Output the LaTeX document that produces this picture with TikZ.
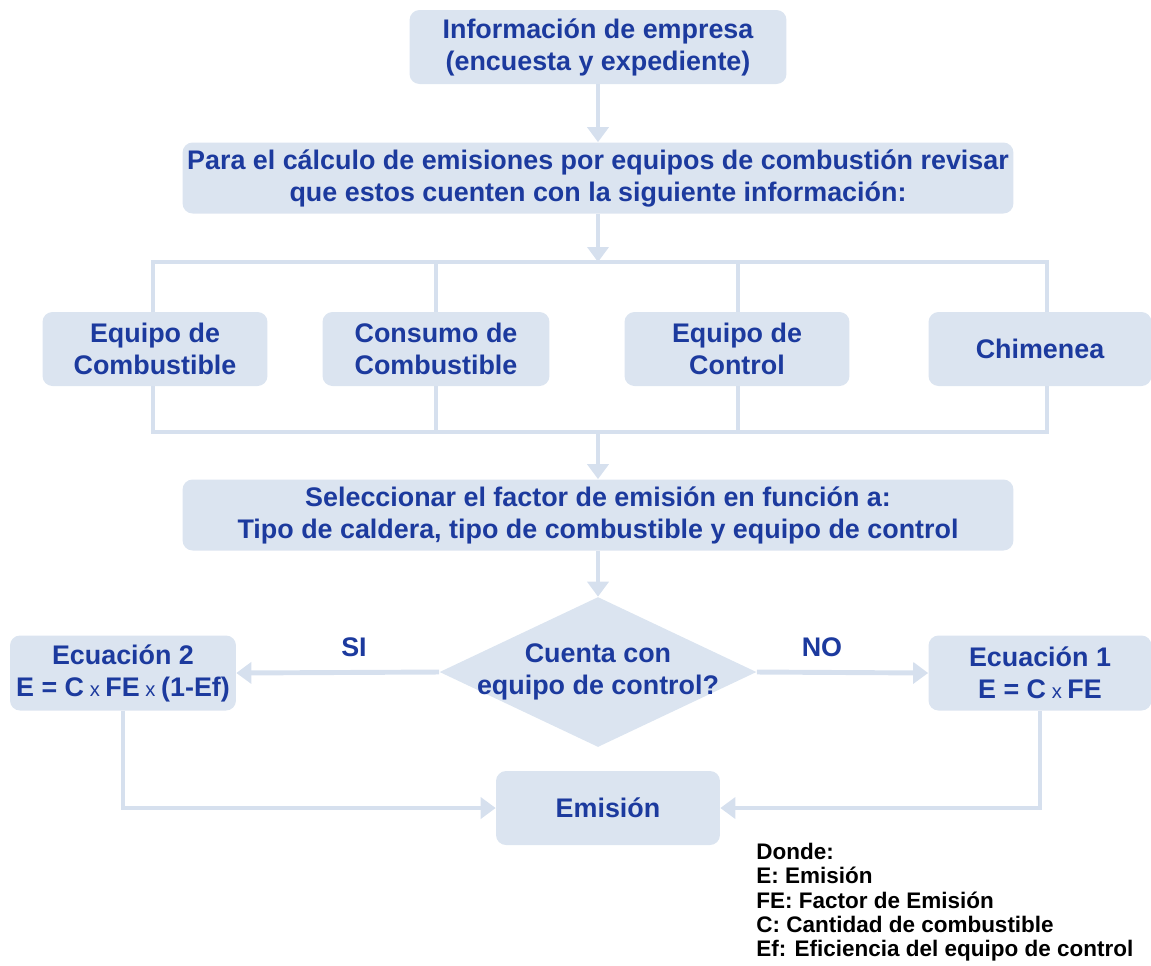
\documentclass[tikz,border=0pt]{standalone}
\usepackage{fontspec}
\setmainfont{Liberation Sans}
\usetikzlibrary{shapes.geometric,arrows.meta,backgrounds}
\definecolor{boxfill}{RGB}{219,228,240}
\definecolor{linecol}{RGB}{214,224,238}
\definecolor{textblue}{RGB}{28,58,158}
\newcommand{\por}{{\mdseries\fontsize{11.5}{12}\selectfont\ x\ }}

\begin{document}
\begin{tikzpicture}[x=0.02cm,y=-0.02cm,
    box/.style={fill=boxfill, rounded corners=0.2cm, text=textblue, align=center,
        font=\bfseries\fontsize{15.3}{18.2}\selectfont, inner sep=0pt},
    conn/.style={draw=linecol, line width=2.8pt},
    arr/.style={conn, -{Triangle[width=0.42cm,length=0.3cm]}},
    tag/.style={text=textblue, font=\bfseries\fontsize{15.3}{18}\selectfont}]
    \useasboundingbox (0,0) rectangle (1151,965);

    % Top boxes
    \node[box, minimum width=7.54cm, minimum height=1.48cm] (info) at (598,47)
        {Información de empresa\\(encuesta y expediente)};
    \node[box, minimum width=16.62cm, minimum height=1.42cm] (revisar) at (598,178)
        {Para el cálculo de emisiones por equipos de combustión revisar\\que estos cuenten con la siguiente información:};

    % Required information
    \node[box, minimum width=4.5cm, minimum height=1.48cm] (equipo) at (155,349) {Equipo de\\Combustible};
    \node[box, minimum width=4.54cm, minimum height=1.48cm] (consumo) at (436,349) {Consumo de\\Combustible};
    \node[box, minimum width=4.5cm, minimum height=1.48cm] (control) at (737,349) {Equipo de\\Control};
    \node[box, minimum width=4.46cm, minimum height=1.48cm] (chimenea) at (1040,349) {Chimenea};

    % Emission factor and decision
    \node[box, minimum width=16.62cm, minimum height=1.42cm] (factor) at (598,515)
        {Seleccionar el factor de emisión en función a:\\Tipo de caldera, tipo de combustible y equipo de control};
    \node[diamond, fill=boxfill, minimum width=6.34cm, minimum height=3cm, inner sep=0pt,
        label={[text=textblue, align=center, font=\bfseries\fontsize{15.3}{18.2}\selectfont]center:Cuenta con\\equipo de control?}]
        (cuenta) at (598,672) {};

    % Equations
    \node[box, minimum width=4.52cm, minimum height=1.5cm] (ec2) at (123,673)
        {Ecuación 2\\E = C\por FE\por(1-Ef)};
    \node[box, minimum width=4.46cm, minimum height=1.5cm] (ec1) at (1040,673)
        {Ecuación 1\\E = C\por FE};
    \node[box, minimum width=4.48cm, minimum height=1.48cm] (emision) at (608,808) {Emisión};

    % Bus lines
    \coordinate (bustop) at (598,262);
    \coordinate (busbot) at (598,432);
    \begin{scope}[on background layer]
        \draw[conn] (153,262) rectangle (1047,432);
        \draw[conn] (436,262) -- (436,432);
        \draw[conn] (738,262) -- (738,432);
    \end{scope}

    % Arrows
    \draw[arr] (info) -- (revisar);
    \draw[arr] (revisar) -- (bustop);
    \draw[arr] (busbot) -- (factor);
    \draw[arr] (factor) -- (cuenta);
    \draw[arr] (cuenta.west) -- node[tag, pos=0.42, above=0.14cm] (si) {SI} (ec2.east);
    \draw[arr] (cuenta.east) -- node[tag, pos=0.38, above=0.14cm] (no) {NO} (ec1.west);
    \draw[arr] (ec2.south) |- (emision.west);
    \draw[arr] (ec1.south) |- (emision.east);

    % Legend
    \node[anchor=north west, align=left, inner sep=0pt, font=\bfseries\fontsize{12.8}{13.8}\selectfont] (donde) at (756,843)
        {Donde:\\E: Emisión\\FE: Factor de Emisión\\C: Cantidad de combustible\\Ef: Eficiencia del equipo de control};
\end{tikzpicture}
\end{document}
